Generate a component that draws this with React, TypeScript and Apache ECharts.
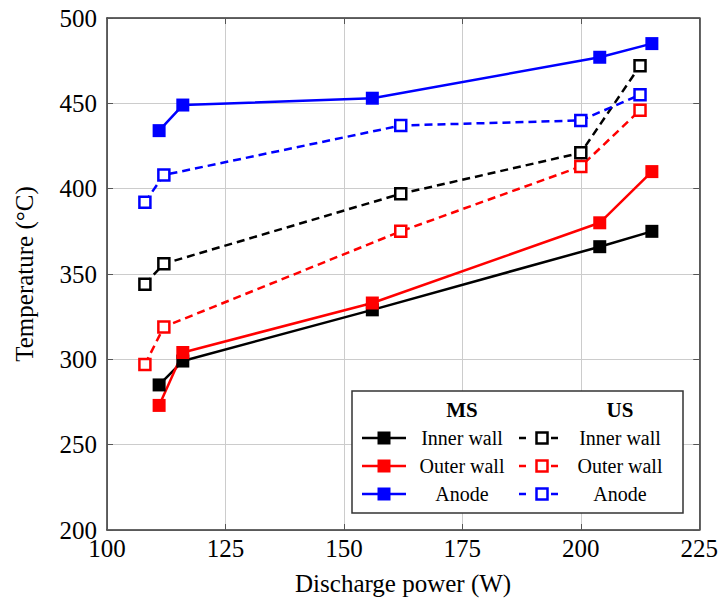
import React, { useEffect, useRef } from "react";
import * as echarts from "echarts";

const msPower = [111, 116, 156, 204, 215];
const msInner = [285, 299, 329, 366, 375];
const msOuter = [273, 304, 333, 380, 410];
const msAnode = [434, 449, 453, 477, 485];

const usPower = [108, 112, 162, 200, 212.5];
const usInner = [344, 356, 397, 421, 472];
const usOuter = [297, 319, 375, 413, 446];
const usAnode = [392, 408, 437, 440, 455];

const legendRows = ["Inner wall", "Outer wall", "Anode"];
const colors = ["#000000", "#ff0000", "#0000ff"];

const FONT = "Liberation Serif";

function zip(xs: number[], ys: number[]) {
  return xs.map((x, i) => [x, ys[i]]);
}

export default function App() {
  const ref = useRef<HTMLDivElement>(null);
  useEffect(() => {
    if (!ref.current) return;
    const chart = echarts.init(ref.current, undefined, { renderer: "svg" });

    const msSeries = [msInner, msOuter, msAnode].map((ys, i) => ({
      type: "line",
      name: "MS " + legendRows[i],
      data: zip(msPower, ys),
      symbol: "rect",
      symbolSize: 13,
      lineStyle: { color: colors[i], width: 2.5, type: "solid" },
      itemStyle: { color: colors[i] },
      z: 3,
    }));
    const usSeries = [usInner, usOuter, usAnode].map((ys, i) => ({
      type: "line",
      name: "US " + legendRows[i],
      data: zip(usPower, ys),
      symbol: "rect",
      symbolSize: 11,
      showAllSymbol: true,
      lineStyle: { color: colors[i], width: 2.5, type: [8, 5] },
      itemStyle: { color: "#ffffff", borderColor: colors[i], borderWidth: 2.5 },
      z: 2,
    }));

    const legendX = 352;
    const legendY = 391;
    const rowYs = [438, 466, 494];
    const legendGraphics: any[] = [
      {
        type: "rect",
        shape: { x: legendX, y: legendY, width: 331, height: 122 },
        style: { fill: "#ffffff", stroke: "#333333", lineWidth: 1.5 },
        z: 100,
      },
      {
        type: "text",
        x: 462,
        y: 410,
        style: { text: "MS", fontFamily: FONT, fontSize: 21, fontWeight: "bold", fill: "#000", align: "center", verticalAlign: "middle" },
        z: 101,
      },
      {
        type: "text",
        x: 620,
        y: 410,
        style: { text: "US", fontFamily: FONT, fontSize: 21, fontWeight: "bold", fill: "#000", align: "center", verticalAlign: "middle" },
        z: 101,
      },
    ];
    rowYs.forEach((y, i) => {
      const c = colors[i];
      legendGraphics.push(
        { type: "line", shape: { x1: 362, y1: y, x2: 406, y2: y }, style: { stroke: c, lineWidth: 2.5 }, z: 101 },
        { type: "rect", shape: { x: 384 - 6.5, y: y - 6.5, width: 13, height: 13 }, style: { fill: c }, z: 102 },
        {
          type: "text",
          x: 462,
          y: y,
          style: { text: legendRows[i], fontFamily: FONT, fontSize: 20, fill: "#000", align: "center", verticalAlign: "middle" },
          z: 101,
        },
        { type: "line", shape: { x1: 519, y1: y, x2: 526, y2: y }, style: { stroke: c, lineWidth: 2.5 }, z: 101 },
        { type: "line", shape: { x1: 551, y1: y, x2: 558, y2: y }, style: { stroke: c, lineWidth: 2.5 }, z: 101 },
        {
          type: "rect",
          shape: { x: 542 - 5.5, y: y - 5.5, width: 11, height: 11 },
          style: { fill: "#fff", stroke: c, lineWidth: 2.5 },
          z: 102,
        },
        {
          type: "text",
          x: 620,
          y: y,
          style: { text: legendRows[i], fontFamily: FONT, fontSize: 20, fill: "#000", align: "center", verticalAlign: "middle" },
          z: 101,
        }
      );
    });

    const axisLine = { show: true, onZero: false, lineStyle: { color: "#333", width: 1.5 } };
    const axisTick = { show: true, inside: true, length: 6, lineStyle: { color: "#555", width: 1 } };

    chart.setOption({
      animation: false,
      backgroundColor: "#ffffff",
      grid: { left: 107, right: 20, top: 18, bottom: 73, containLabel: false },
      xAxis: [
        {
          type: "value",
          min: 100,
          max: 225,
          interval: 25,
          name: "Discharge power (W)",
          nameLocation: "middle",
          nameGap: 41,
          nameTextStyle: { fontFamily: FONT, fontSize: 25, color: "#000" },
          axisLine,
          axisTick,
          axisLabel: { fontFamily: FONT, fontSize: 25, color: "#000", margin: 6 },
          splitLine: { show: true, lineStyle: { color: "#cccccc", width: 1 } },
        },
        {
          type: "value",
          position: "top",
          min: 100,
          max: 225,
          interval: 25,
          axisLine,
          axisTick,
          axisLabel: { show: false },
          splitLine: { show: false },
        },
      ],
      yAxis: [
        {
          type: "value",
          min: 200,
          max: 500,
          interval: 50,
          name: "Temperature (°C)",
          nameLocation: "middle",
          nameGap: 70,
          nameRotate: 90,
          nameTextStyle: { fontFamily: FONT, fontSize: 25, color: "#000" },
          axisLine,
          axisTick,
          axisLabel: { fontFamily: FONT, fontSize: 25, color: "#000", margin: 10 },
          splitLine: { show: true, lineStyle: { color: "#cccccc", width: 1 } },
        },
        {
          type: "value",
          position: "right",
          min: 200,
          max: 500,
          interval: 50,
          axisLine,
          axisTick,
          axisLabel: { show: false },
          splitLine: { show: false },
        },
      ],
      series: [...msSeries, ...usSeries],
      graphic: legendGraphics,
    });

    return () => chart.dispose();
  }, []);

  return <div ref={ref} style={{ width: 721, height: 603, position: "absolute", left: 0, top: 0 }} />;
}
